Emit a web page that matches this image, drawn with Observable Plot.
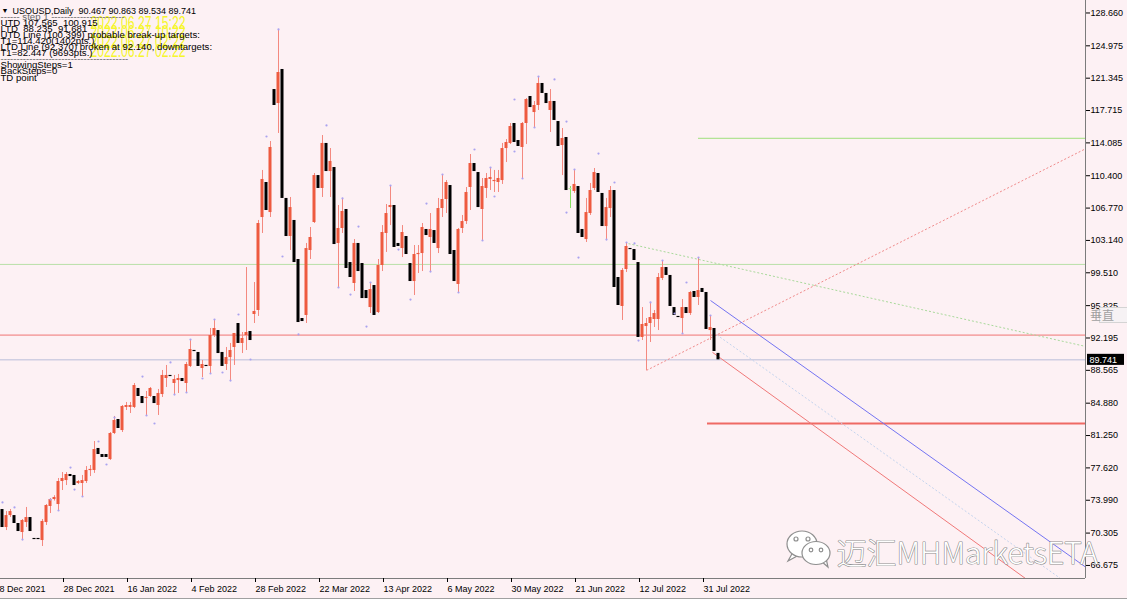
<!DOCTYPE html>
<html>
<head>
<meta charset="utf-8">
<script src="https://cdn.jsdelivr.net/npm/d3@7"></script>
<script src="https://cdn.jsdelivr.net/npm/@observablehq/plot@0.6"></script>
<style>
  html,body{margin:0;padding:0;background:#fdf1f4;overflow:hidden;}
  #chart svg{display:block;}
</style>
</head>
<body>
<div id="chart"></div>
<script>
// ---- Daily OHLC, USOUSD (bar index 1..180) ----
const opens = [72.95,70.93,72.27,72.27,71.38,70.37,71.49,72.05,69.70,69.70,
69.47,71.49,73.29,74.07,73.51,76.09,76.20,76.88,76.77,75.87,
75.87,76.09,77.33,77.33,79.80,79.12,79.12,78.56,81.48,83.05,
81.81,84.40,84.40,84.40,86.53,85.63,85.41,85.63,85.63,84.62,
85.85,87.65,87.99,87.09,87.42,87.65,87.09,89.00,90.79,90.57,
88.77,89.11,89.00,92.47,93.03,90.57,89.22,90.00,91.13,93.82,
91.58,92.47,92.92,94.83,95.28,105.71,109.64,106.27,120.07,118.50,
122.32,107.85,103.58,105.38,101.00,94.38,94.72,102.01,105.15,110.42,
108.97,114.02,110.87,111.32,102.80,104.48,106.61,100.66,98.31,102.80,
100.55,97.52,95.61,98.08,95.05,100.33,103.92,106.83,107.06,102.80,
102.23,103.58,100.55,98.53,101.56,101.67,104.37,103.47,104.25,102.23,
106.72,107.73,109.30,102.01,98.20,104.48,105.26,109.08,111.77,110.76,
106.61,108.97,109.98,109.75,109.64,109.86,113.45,114.02,116.26,114.35,
113.57,116.26,119.29,117.49,118.28,120.75,119.63,117.72,118.73,116.48,
113.79,114.69,108.90,108.63,109.19,104.37,103.24,106.16,108.97,110.65,
108.41,104.70,106.72,108.74,98.98,95.73,99.88,102.23,102.12,100.66,
92.25,93.48,93.82,94.27,94.27,98.87,100.10,99.21,95.61,94.61,
94.38,95.61,94.94,97.41,96.74,97.75,97.30,93.03,93.26,90.467];
const highs = [72.95,72.72,72.95,72.27,71.38,71.83,73.18,72.05,69.70,69.70,
71.83,73.51,74.18,74.50,76.43,77.10,77.10,76.88,76.77,76.20,
76.77,77.77,77.89,80.58,79.80,79.12,79.12,81.59,83.39,83.05,
84.62,84.96,84.96,87.09,86.53,85.63,86.19,86.64,85.63,86.42,
88.55,89.11,87.99,87.99,88.10,87.65,89.45,92.02,90.79,90.57,
89.67,89.11,93.26,94.27,93.03,90.57,91.13,91.58,92.70,93.82,
92.81,100.10,92.92,98.42,105.38,110.99,109.64,114.24,120.07,126.81,
122.32,107.85,107.96,105.38,101.00,94.38,102.80,104.59,110.65,110.42,
114.91,114.02,113.45,111.32,107.06,107.85,106.61,100.66,103.24,102.80,
100.55,97.52,98.42,98.08,101.00,104.81,107.17,109.30,107.06,102.80,
104.81,103.58,100.55,102.57,102.57,105.04,104.37,106.16,104.25,107.85,
110.54,109.86,109.30,102.01,104.48,105.94,109.08,112.78,111.77,110.76,
110.09,110.65,111.32,110.99,110.99,114.02,114.46,116.26,116.26,114.35,
116.37,119.06,119.29,118.73,121.53,120.75,119.63,120.07,118.73,116.48,
115.70,114.69,109.19,111.10,109.19,104.37,107.85,109.53,111.21,110.65,
108.41,107.85,109.19,108.74,98.98,99.99,102.91,102.23,102.12,100.66,
95.61,94.38,96.18,95.28,99.43,100.89,100.10,99.21,95.61,94.61,
96.51,95.61,97.41,97.41,101.22,97.75,97.30,94.72,93.26,90.863];
const lows = [70.93,70.59,72.05,71.38,70.48,69.58,70.93,70.48,69.58,69.58,
68.80,71.16,72.50,73.90,72.84,75.08,75.64,76.65,75.64,75.75,
74.41,75.87,76.65,77.00,79.12,78.79,78.79,78.45,81.36,82.04,
81.59,84.06,83.72,84.28,85.63,84.84,83.50,85.52,84.84,83.50,
85.52,86.64,87.87,85.85,85.97,87.31,86.08,88.88,90.68,89.00,
87.76,89.00,88.21,92.25,90.45,89.00,88.55,87.42,89.11,91.58,
90.45,90.79,91.91,93.82,94.61,103.92,106.50,105.71,118.28,115.14,
107.85,103.58,102.01,100.66,93.93,94.04,93.82,101.00,105.04,108.97,
107.96,110.87,107.96,102.68,97.86,103.92,99.99,98.98,97.41,99.65,
96.62,96.62,94.94,94.72,94.94,99.65,101.79,104.81,102.35,102.46,
101.22,101.56,98.53,96.96,99.43,99.65,103.69,99.65,102.80,101.67,
105.71,106.16,101.56,98.53,97.30,103.92,104.93,106.50,110.87,106.83,
103.13,107.85,108.74,108.52,108.52,109.42,111.88,113.90,114.13,113.68,
110.09,113.90,118.05,115.81,117.72,119.63,118.50,115.25,116.60,113.68,
110.42,108.74,106.72,108.41,103.92,103.47,102.91,105.94,108.74,108.52,
104.70,103.13,105.71,97.86,95.84,94.16,99.54,102.12,100.89,92.25,
91.91,88.55,91.69,93.37,93.03,98.64,99.21,95.73,94.72,94.49,
92.70,94.94,94.72,96.74,95.84,97.30,93.15,91.91,90.68,89.534];
const closes = [70.93,72.27,72.72,71.38,70.48,71.72,72.05,70.48,69.58,69.58,
71.61,73.40,74.07,74.30,76.09,76.43,76.88,76.65,75.64,76.09,
76.20,77.33,77.44,79.68,79.12,78.79,78.79,81.48,82.94,82.04,
84.51,84.62,84.62,86.86,85.63,84.84,85.52,86.53,84.84,85.97,
87.99,87.99,87.87,87.54,87.65,87.31,89.22,90.90,90.68,89.00,
89.22,89.00,92.47,93.26,90.45,89.00,90.00,90.79,92.70,91.58,
92.14,92.81,91.91,95.17,105.04,109.98,106.50,113.57,118.28,121.98,
107.85,103.58,106.83,100.66,93.93,94.04,102.23,103.47,110.42,108.97,
114.02,110.87,112.00,102.68,104.48,106.39,99.99,98.98,102.80,99.65,
96.62,96.62,97.63,94.72,100.33,104.03,106.16,107.06,102.35,102.46,
104.03,101.56,98.53,101.56,101.67,104.59,103.69,104.37,102.80,106.72,
107.73,109.64,101.56,98.53,104.37,105.26,108.52,111.77,110.87,106.83,
109.19,110.09,110.20,109.86,110.09,113.45,114.13,115.92,114.13,113.68,
116.26,118.95,118.05,118.28,120.75,119.63,118.50,118.73,116.60,113.68,
114.58,108.74,108.90,109.42,103.92,103.47,106.27,108.74,110.76,108.52,
104.70,106.83,108.74,97.86,95.84,99.77,102.46,102.12,100.89,92.25,
93.71,93.82,94.49,94.94,98.98,100.10,99.21,95.73,94.72,94.49,
95.61,94.94,97.30,96.74,97.52,97.30,93.15,93.37,90.68,89.741];

// ---- axes ----
const xTickIdx = [0,16,32,48,64,80,96,112,128,144,160,176];
const xTickLabels = ["8 Dec 2021","28 Dec 2021","16 Jan 2022","4 Feb 2022","28 Feb 2022","22 Mar 2022",
  "13 Apr 2022","6 May 2022","30 May 2022","21 Jun 2022","12 Jul 2022","31 Jul 2022"];
const yTicks = [128.660,124.975,121.345,117.715,114.085,110.400,106.770,103.140,99.510,
  95.825,92.195,88.565,84.880,81.250,77.620,73.990,70.305,66.675];
const xDomain = [0.5, 271.75];
const yDomain = [65.21, 130.06];

// ---- TD points ----
const tdIdx = [1,4,6,13,15,18,19,21,25,27,29,36,37,39,43,44,47,48,51,53,54,56,58,60,63,67,70,71,75,82,
  85,86,88,90,92,93,98,100,103,107,108,111,115,119,121,123,124,129,129,131,134,135,139,142,142,144,145,150,152,154,
  157,159,160,163,166,169,171,172,175,178];
const tdPrice = [73.74,73.18,69.58,74.07,72.84,77.66,75.19,74.41,80.58,78.00,83.27,87.87,83.50,82.60,89.45,85.85,86.08,92.02,87.65,88.21,
  94.27,88.32,87.42,94.83,89.78,114.80,126.81,101.34,92.59,116.04,97.86,107.85,97.07,104.70,93.48,98.42,109.30,102.12,96.51,107.28,
  99.65,110.54,97.30,113.34,103.13,111.32,108.07,118.95,113.12,110.09,115.81,121.53,121.20,116.48,106.27,111.10,101.22,112.89,103.24,109.64,
  102.91,102.80,91.91,96.18,100.89,94.94,92.70,98.42,101.22,94.72];

// ---- levels & trend lines ----
const fullLevels = [
  {p: 100.45, color: "#b8e0a8"},   // UTD line level
  {p: 92.52,  color: "#f07472"},   // LTD break level
  {p: 89.741, color: "#b9bdd9"}    // bid
];
const partLevels = [
  {p: 114.6, x1: 175,    color: "#9fe07c", w: 1},   // T1 up
  {p: 82.6,  x1: 177.25, color: "#ef6a64", w: 2}    // T1 down
];
const trendLines = [
  {x1: 157.5, y1: 102.78, x2: 271.75, y2: 91.25, color: "#a9d99b", dash: "2,2"},
  {x1: 162,   y1: 88.56,  x2: 271.75, y2: 113.42, color: "#f08a8a", dash: "2,2"},
  {x1: 178,   y1: 96.4,   x2: 271.75, y2: 66.5,  color: "#7474f2", dash: null},
  {x1: 178.5, y1: 90.58,  x2: 256.75, y2: 65.21, color: "#f07878", dash: null},
  {x1: 178.75,y1: 92.81,  x2: 265.5,  y2: 65.21, color: "#c4d4ee", dash: "2,2"}
];
const lastClose = 89.741;

// ---- texts ----
const headerLines = [
  "------ step 1 -----------------------",
  "UTD 107.565  100.915",
  "LTD  88.235  91.681",
  "UTD Line (100.399) probable break-up targets:",
  "T1=114.420(1402pts.)",
  "LTD Line (92.370) broken at 92.140, downtargets:",
  "T1=82.447 (9693pts.)",
  "----------------------------------------",
  "ShowingSteps=1",
  "BackSteps=0",
  "TD point"
];
const titleLine = "USOUSD,Daily  90.467 90.863 89.534 89.741";
const yellowLines = ["2022.06.27 15:22","2022.06.27 10:22","2022.06.27 02:22","2022.06.27 02:22"];
const watermark = "迈汇MHMarketsETA";

// ---- build ----
const bars = opens.map((o, k) => ({i: k + 1, o, h: highs[k], l: lows[k], c: closes[k]}));
const up = bars.filter(d => d.c > d.o);
const down = bars.filter(d => d.c < d.o);
const doji = bars.filter(d => d.c === d.o);
const minB = 0.13;
const bLo = d => { const lo = Math.min(d.o, d.c), hi = Math.max(d.o, d.c); return hi - lo < minB ? (lo + hi) / 2 - minB / 2 : lo; };
const bHi = d => { const lo = Math.min(d.o, d.c), hi = Math.max(d.o, d.c); return hi - lo < minB ? (lo + hi) / 2 + minB / 2 : hi; };
const td = tdIdx.map((i, k) => ({i, p: tdPrice[k]}));

const font = "'Liberation Sans', Arial, sans-serif";
const hdrSize = 9.6;
const marks = [
  // yellow overlay dates
  ...yellowLines.map((t, k) => Plot.text([t], {frameAnchor: "top-left", dx: 90, dy: [28, 37, 47, 56][k],
    lineAnchor: "bottom", textAnchor: "start", fontSize: 18, fill: "#f6f62a", className: "yl"})),
  // levels
  Plot.ruleY(fullLevels, {y: "p", stroke: "color"}),
  Plot.ruleY(partLevels, {y: "p", x1: "x1", x2: () => xDomain[1], stroke: "color", strokeWidth: "w"}),
  ...trendLines.map(t => Plot.link([t], {x1: "x1", y1: "y1", x2: "x2", y2: "y2", stroke: t.color, strokeDasharray: t.dash})),
  // candles
  Plot.ruleX(up, {x: "i", y1: "l", y2: "h", stroke: "#f4897f"}),
  Plot.rect(up, {x1: d => d.i - 0.375, x2: d => d.i + 0.375, y1: bLo, y2: bHi, fill: "#ee5a3f"}),
  Plot.rect(down, {x1: d => d.i - 0.375, x2: d => d.i + 0.375, y1: bLo, y2: bHi, fill: "#000"}),
  Plot.ruleX(doji, {x: "i", y1: "l", y2: "h", stroke: "#86e060"}),
  Plot.rect(doji, {x1: d => d.i - 0.375, x2: d => d.i + 0.375, y1: bLo, y2: bHi, fill: "#b8f0a0"}),
  // TD points
  Plot.dot(td, {x: "i", y: "p", r: 1.1, fill: "#aaa3ef"}),
  // frame
  Plot.ruleX([xDomain[1]], {stroke: "#7c7c7c"}),
  Plot.ruleY([yDomain[0]], {stroke: "#7c7c7c"}),
  // axes
  Plot.axisY(yTicks, {anchor: "right", tickSize: 4, tickPadding: 1, tickFormat: d => d.toFixed(3),
    fontSize: 9, color: "#000"}),
  Plot.axisX(xTickIdx, {anchor: "bottom", tickSize: 4, tickPadding: 3, textAnchor: "start", dx: 1,
    tickFormat: d => xTickLabels[xTickIdx.indexOf(d)], fontSize: 9, color: "#000"}),
  // last price tag
  Plot.rect([lastClose], {x1: () => 272.25, x2: () => 281.5, y1: d => d - 0.62, y2: d => d + 0.62, fill: "#000"}),
  Plot.text([lastClose], {x: () => 272.25, y: d => d, text: d => d.toFixed(3), textAnchor: "start", dx: 2,
    fill: "#fff", fontSize: 9}),
  // header
  Plot.text(["▼"], {frameAnchor: "top-left", dx: 1, dy: 12, lineAnchor: "bottom", textAnchor: "start", fontSize: 7, fill: "#000"}),
  Plot.text([titleLine], {frameAnchor: "top-left", dx: 12, dy: 13, lineAnchor: "bottom", textAnchor: "start", fontSize: 9, fill: "#000"}),
  ...headerLines.map((t, k) => Plot.text([t], {frameAnchor: "top-left", dx: 0, dy: 19 + 6.1 * k,
    lineAnchor: "bottom", textAnchor: "start", fontSize: hdrSize, fill: k === 0 || k === 7 ? "#666" : "#000"})),
  // watermark
  Plot.text([watermark], {frameAnchor: "top-left", dx: 836, dy: 563, lineAnchor: "bottom", textAnchor: "start",
    fontSize: 30, fontFamily: "'Noto Sans CJK SC', sans-serif", fontWeight: 300,
    fill: "#fff", stroke: "#8e8e8e", strokeWidth: 1.2})
];

const plot = Plot.plot({
  width: 1127, height: 599,
  marginLeft: 0, marginRight: 42, marginTop: 0, marginBottom: 21,
  x: {type: "linear", domain: xDomain},
  y: {type: "linear", domain: yDomain},
  style: {background: "#fdf1f4", fontFamily: font, fontSize: "9px", color: "#000"},
  marks
});
document.getElementById("chart").append(plot);

// decorations
const svg = d3.select(plot);
svg.selectAll("g.yl text").attr("textLength", 95).attr("lengthAdjust", "spacingAndGlyphs");
// WeChat-style icon next to the watermark
const ic = svg.append("g").attr("fill", "#fff").attr("stroke", "#8e8e8e").attr("stroke-width", 1.2);
ic.append("path").attr("d", "M793,552 L788,561 L799,555 Z");
ic.append("ellipse").attr("cx", 802).attr("cy", 544).attr("rx", 15).attr("ry", 13);
ic.append("circle").attr("cx", 796).attr("cy", 539).attr("r", 2);
ic.append("circle").attr("cx", 808).attr("cy", 539).attr("r", 2);
ic.append("path").attr("d", "M821,561 L828,567 L826,558 Z");
ic.append("ellipse").attr("cx", 816).attr("cy", 553).attr("rx", 14).attr("ry", 11.5);
ic.append("circle").attr("cx", 811).attr("cy", 550).attr("r", 1.8);
ic.append("circle").attr("cx", 821).attr("cy", 550).attr("r", 1.8);
// "垂直" object label
svg.append("rect").attr("x", 1099.5).attr("y", 307.5).attr("width", 30).attr("height", 15)
  .attr("fill", "#f6f2f4").attr("stroke", "#d4d4d4");
svg.append("text").attr("x", 1102).attr("y", 320).attr("font-size", 12)
  .attr("font-family", "'Noto Sans CJK SC', sans-serif").attr("fill", "#a0a0a0").text("垂直");
// window bottom edge
svg.append("line").attr("x1", 0).attr("x2", 1127).attr("y1", 598.5).attr("y2", 598.5).attr("stroke", "#a0a0a0");
</script>
</body>
</html>
